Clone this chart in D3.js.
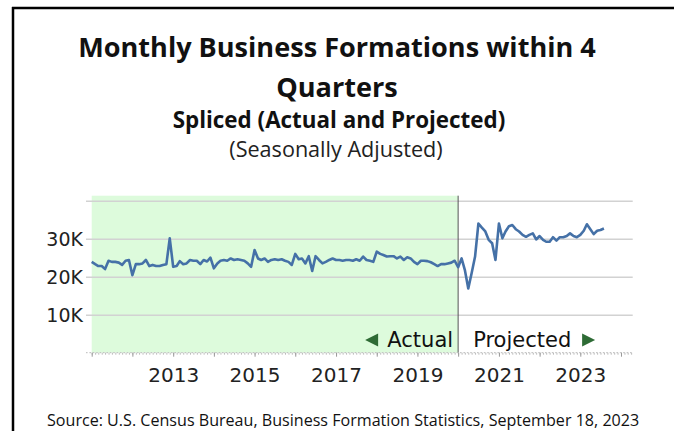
<!doctype html>
<html lang="en">
<head>
  <meta charset="utf-8">
  <title>business formations</title>
  <style>
  body { margin: 0; background: #fff; }
  svg { display: block; }
  .title { font-family: "Open Sans", sans-serif; font-weight: bold; fill: #111; }
  .axis text { font-family: "DejaVu Sans", sans-serif; fill: #222; }
  </style>
</head>
<body>
<div id="chart"></div>
<script src="https://d3js.org/d3.v7.min.js"></script>
<script>

// ---------------- data (thousands, monthly from Jan 2011)
var actualValues = [
  23.9, 23.3, 22.8, 22.8, 22.0, 24.2, 23.9, 23.9, 23.7, 23.1, 24.2, 24.4,   // 2011
  20.4, 23.3, 23.3, 23.5, 24.4, 22.8, 23.1, 22.8, 22.8, 23.1, 23.3, 30.1,   // 2012
  22.6, 22.8, 24.1, 23.3, 23.5, 24.4, 24.2, 24.2, 23.3, 24.4, 24.0, 25.0,   // 2013
  22.2, 23.5, 24.2, 24.4, 24.2, 24.8, 24.4, 24.6, 24.4, 24.2, 23.5, 22.6,   // 2014
  27.0, 24.8, 24.4, 24.8, 23.9, 24.4, 24.6, 24.4, 24.6, 24.2, 23.9, 23.1,   // 2015
  26.0, 24.6, 24.8, 23.5, 25.4, 21.5, 25.4, 24.4, 23.5, 23.9, 24.4, 24.8,   // 2016
  24.4, 24.4, 24.2, 24.4, 24.4, 24.2, 24.6, 24.2, 25.3, 24.4, 24.2, 23.9,   // 2017
  26.6, 26.0, 25.7, 25.3, 25.4, 25.4, 24.8, 25.3, 24.4, 25.1, 24.8, 23.9,   // 2018
  23.3, 24.2, 24.2, 24.1, 23.8, 23.3, 22.8, 23.3, 23.3, 23.5, 23.7, 24.2    // 2019
];
var projectedValues = [
  22.5, 24.8, 21.8, 16.9, 20.9, 25.3, 34.0, 32.9, 31.9, 29.7, 28.8, 24.4,   // 2020
  34.0, 30.1, 31.9, 33.3, 33.6, 32.5, 31.9, 31.0, 30.5, 31.0, 31.4, 29.8,   // 2021
  30.7, 29.7, 29.2, 29.2, 30.4, 29.5, 30.4, 30.4, 30.7, 31.4, 30.7, 30.4,   // 2022
  31.0, 32.1, 33.8, 32.5, 31.2, 32.1, 32.3, 32.7                            // 2023
];
var yTicks = [10000, 20000, 30000];
var gridTicks = [10000, 20000, 30000, 40000];
var yearLabels = [2013, 2015, 2017, 2019, 2021, 2023];
var firstMonth = new Date(2011, 0, 1);
var splitMonth = new Date(2020, 0, 1);

var allValues = actualValues.concat(projectedValues);
var data = allValues.map(function(v, i) {
  return { date: d3.timeMonth.offset(firstMonth, i), value: v * 1000 };
});

// ---------------- svg + frame
var width = 674, height = 431;
var svg = d3.select("#chart").append("svg")
    .attr("width", width)
    .attr("height", height);

svg.append("line").attr("x1", 12).attr("x2", width).attr("y1", 8).attr("y2", 8)
    .attr("stroke", "#000").attr("stroke-width", 2.5);
svg.append("line").attr("x1", 13).attr("x2", 13).attr("y1", 7).attr("y2", height)
    .attr("stroke", "#000").attr("stroke-width", 2.5);

// ---------------- titles
svg.append("text").attr("class", "title").attr("x", 337).attr("y", 57)
    .attr("text-anchor", "middle").attr("font-size", "27.1px")
    .text("Monthly Business Formations within 4");
svg.append("text").attr("class", "title").attr("x", 337).attr("y", 97)
    .attr("text-anchor", "middle").attr("font-size", "27.1px")
    .text("Quarters");
svg.append("text").attr("class", "title").attr("x", 339).attr("y", 128)
    .attr("text-anchor", "middle").attr("font-size", "22.4px")
    .text("Spliced (Actual and Projected)");
svg.append("text").attr("x", 336).attr("y", 157)
    .attr("text-anchor", "middle")
    .attr("font-family", "'Open Sans', sans-serif").attr("font-size", "21.6px").attr("fill", "#222")
    .text("(Seasonally Adjusted)");

// ---------------- scales
var plotLeft = 91.7, plotRight = 632.7, plotTop = 200.7, plotBottom = 352.7;
var x = d3.scaleTime()
    .domain([firstMonth, new Date(2024, 3, 15)])
    .range([plotLeft, plotRight]);
var y = d3.scaleLinear().domain([0, 40000]).range([plotBottom, plotTop]);

// shaded actual region
svg.append("rect")
    .attr("x", x(firstMonth)).attr("y", plotTop - 5)
    .attr("width", x(splitMonth) - x(firstMonth))
    .attr("height", plotBottom - plotTop + 5)
    .attr("fill", "#ddfbdc");

// y grid + labels
var gridX0 = 86;
var yGrid = svg.append("g")
    .attr("transform", "translate(" + gridX0 + ",0)")
    .call(d3.axisLeft(y).tickValues(gridTicks).tickSize(-(plotRight - gridX0)).tickFormat(""));
yGrid.select(".domain").remove();
yGrid.selectAll("line").attr("stroke", "#d2d2d2").attr("stroke-width", 1.6);

var yAxis = svg.append("g").attr("class", "axis")
    .attr("transform", "translate(" + gridX0 + ",0)")
    .call(d3.axisLeft(y).tickValues(yTicks).tickSize(0).tickPadding(3)
      .tickFormat(function(d) { return (d / 1000) + "K"; }));
yAxis.select(".domain").remove();
yAxis.selectAll("text").attr("font-size", "19px").attr("dy", "0.36em");

// divider
svg.append("line")
    .attr("x1", x(splitMonth)).attr("x2", x(splitMonth))
    .attr("y1", plotTop - 5).attr("y2", plotBottom)
    .attr("stroke", "#555").attr("stroke-width", 1);

// x axis: monthly minor ticks, yearly major ticks
var minorAxis = svg.append("g")
    .attr("transform", "translate(0," + plotBottom + ")")
    .call(d3.axisBottom(x).ticks(d3.timeMonth.every(1)).tickSize(2).tickSizeOuter(0).tickFormat(""));
minorAxis.select(".domain").attr("stroke", "#bbb").attr("stroke-dasharray", "1.6,1.8")
    .attr("d", "M" + gridX0 + ",0H" + plotRight);
minorAxis.selectAll("line").attr("stroke", "#bbb");

var majorAxis = svg.append("g")
    .attr("transform", "translate(0," + plotBottom + ")")
    .call(d3.axisBottom(x).ticks(d3.timeYear.every(1)).tickSize(4).tickFormat(""));
majorAxis.select(".domain").remove();
majorAxis.selectAll("line").attr("stroke", "#999");

var xAxis = svg.append("g").attr("class", "axis")
    .attr("transform", "translate(0," + plotBottom + ")")
    .call(d3.axisBottom(x)
      .tickValues(yearLabels.map(function(yr) { return new Date(yr, 0, 1); }))
      .tickSize(0).tickPadding(15)
      .tickFormat(d3.timeFormat("%Y")));
xAxis.select(".domain").remove();
xAxis.selectAll("text").attr("font-size", "20px");

// ---------------- line
var line = d3.line()
    .x(function(d) { return x(d.date); })
    .y(function(d) { return y(d.value); });
svg.append("path")
    .datum(data)
    .attr("d", line)
    .attr("fill", "none")
    .attr("stroke", "#4571a7")
    .attr("stroke-width", 2.6)
    .attr("stroke-linejoin", "round");

// ---------------- actual / projected labels
var labelY = 346.5;
var splitX = x(splitMonth);
svg.append("text").attr("x", splitX - 5).attr("y", labelY)
    .attr("text-anchor", "end").attr("font-family", "'DejaVu Sans', sans-serif")
    .attr("font-size", "21px").attr("fill", "#111").text("Actual");
svg.append("text").attr("x", splitX + 15).attr("y", labelY)
    .attr("text-anchor", "start").attr("font-family", "'DejaVu Sans', sans-serif")
    .attr("font-size", "21px").attr("fill", "#111").text("Projected");
svg.append("path")
    .attr("transform", "translate(" + (splitX - 93) + "," + (labelY - 6.5) + ")")
    .attr("d", "M0,0L13,-6.5L13,6.5Z").attr("fill", "#2e6b35");
svg.append("path")
    .attr("transform", "translate(" + (splitX + 124) + "," + (labelY - 6.5) + ")")
    .attr("d", "M0,-6.5L13,0L0,6.5Z").attr("fill", "#2e6b35");

// ---------------- source
svg.append("text").attr("x", 47).attr("y", 426)
    .attr("font-family", "'Open Sans', sans-serif").attr("font-size", "16.1px").attr("fill", "#111")
    .text("Source: U.S. Census Bureau, Business Formation Statistics, September 18, 2023");

</script>
</body>
</html>
